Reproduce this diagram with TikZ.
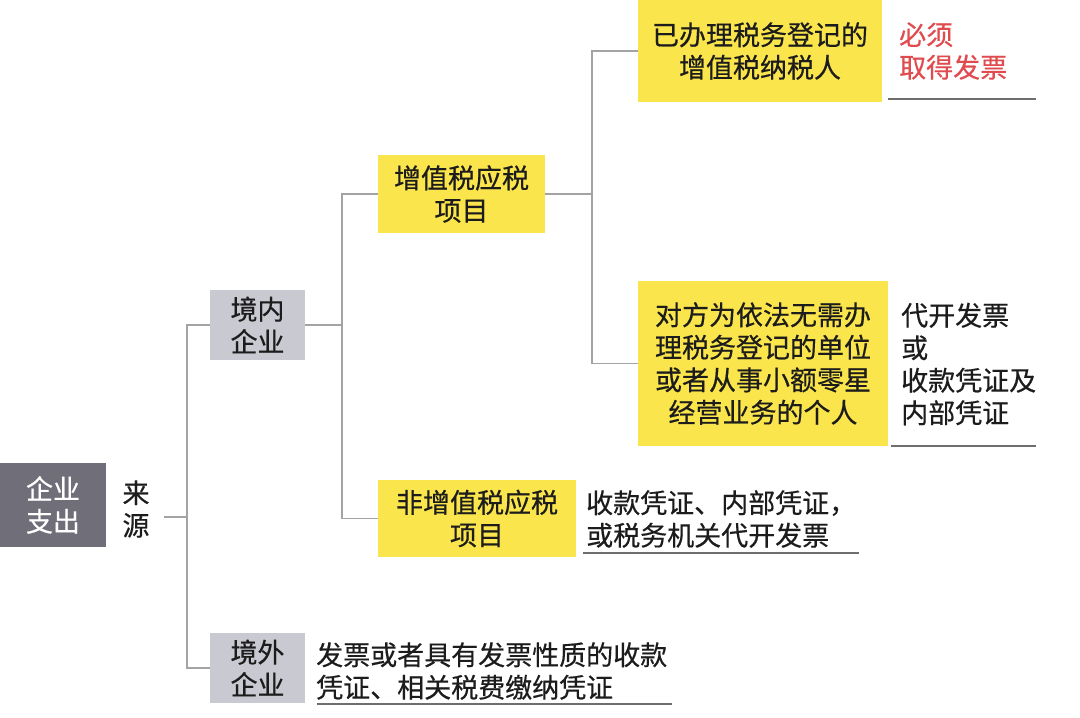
\documentclass[tikz,border=0pt]{standalone}
\usepackage{fontspec}
\newfontfamily\cjk[FakeBold=0.5]{Noto Sans CJK SC}
\usepackage{xcolor}
\definecolor{rootgray}{HTML}{6F6E79}
\definecolor{boxgray}{HTML}{C9C9D2}
\definecolor{boxyellow}{HTML}{FAE54C}
\definecolor{linegray}{HTML}{A3A3A3}
\definecolor{rulegray}{HTML}{6E6E6E}
\definecolor{notered}{HTML}{E04B4F}
\definecolor{inkblack}{HTML}{1C1C1C}

\begin{document}
\begin{tikzpicture}[x=1pt,y=-1pt,
  every node/.style={font=\cjk\fontsize{27pt}{32.5pt}\selectfont, text=inkblack, align=center, inner sep=0pt},
  rootbox/.style={fill=rootgray, text=white, minimum width=106pt, minimum height=84pt},
  graybox/.style={fill=boxgray, minimum width=95pt, minimum height=70pt},
  yellowbox/.style={fill=boxyellow},
  note/.style={anchor=west, align=left},
  link/.style={draw=linegray, line width=1.3pt},
  rule/.style={draw=rulegray, line width=2.5pt}]
\useasboundingbox (0,0) rectangle (1080,718);
\node[rootbox] (zhichu) at (53,505) {企业\\支出};
\node (laiyuan) at (136,509) {来\\源};
\node[graybox] (jingnei) at (257.5,325) {境内\\企业};
\node[graybox] (jingwai) at (257.5,668) {境外\\企业};
\node[yellowbox, minimum width=167pt, minimum height=78pt] (zengzhi) at (461.5,194) {增值税应税\\项目};
\node[yellowbox, minimum width=198pt, minimum height=77pt] (feizengzhi) at (477,518.5) {非增值税应税\\项目};
\node[yellowbox, minimum width=244pt, minimum height=102pt] (dengji) at (760,51) {已办理税务登记的\\增值税纳税人};
\node[yellowbox, minimum width=250pt, minimum height=165pt] (wuxu) at (763,363.5) {对方为依法无需办\\理税务登记的单位\\或者从事小额零星\\经营业务的个人};
\node[note, text=notered] (bixu) at (899,51) {必须\\取得发票};
\node[note] (daikai) at (901,364) {代开发票\\或\\收款凭证及\\内部凭证};
\node[note] (shoukuan) at (586,519) {收款凭证、内部凭证，\\或税务机关代开发票};
\node[note] (fapiao) at (316,671) {发票或者具有发票性质的收款\\凭证、相关税费缴纳凭证};
\coordinate (lyend) at (164,517);
\coordinate (fork1) at (187,517);
\coordinate (fork2) at (342,325);
\coordinate (fork3) at (592,194);
\draw[link] (lyend) -- (fork1);
\draw[link] (jingnei.west) -| (fork1) |- (jingwai.west);
\draw[link] (jingnei.east) -- (fork2) |- (zengzhi.west);
\draw[link] (fork2) |- (feizengzhi.west);
\draw[link] (zengzhi.east) -- (fork3) |- (dengji.west);
\draw[link] (fork3) |- (wuxu.west);
\draw[rule] (888,99) -- (1036,99);
\draw[rule] (891,446) -- (1036,446);
\draw[rule] (583,553) -- (859,553);
\draw[rule] (317,704) -- (672,704);
\end{tikzpicture}
\end{document}
